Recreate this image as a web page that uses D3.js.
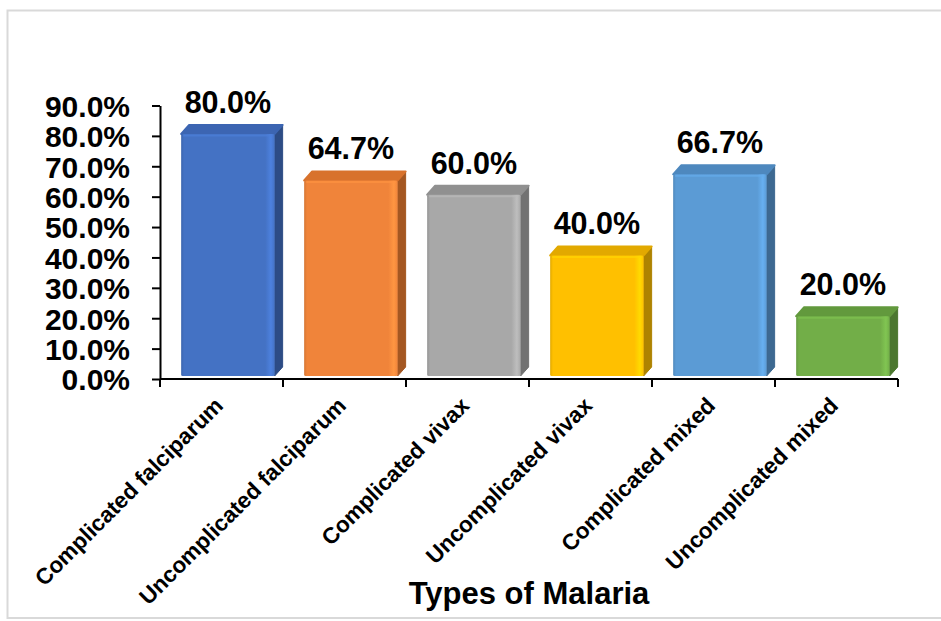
<!DOCTYPE html>
<html>
<head>
<meta charset="utf-8">
<script src="https://cdn.jsdelivr.net/npm/d3@7"></script>
<style>
  html, body { margin: 0; padding: 0; background: #fff; }
  svg { display: block; font-family: "Liberation Sans", Arial, sans-serif; }
</style>
</head>
<body>
<svg id="chart" width="941" height="621"></svg>
<script>
// Share of cases by malaria type
const categories = [
  "Complicated falciparum",
  "Uncomplicated falciparum",
  "Complicated vivax",
  "Uncomplicated vivax",
  "Complicated mixed",
  "Uncomplicated mixed"
];
const values = [80.0, 64.7, 60.0, 40.0, 66.7, 20.0];
const yTicks = [0, 10, 20, 30, 40, 50, 60, 70, 80, 90];
const axisTitle = "Types of Malaria";

// Front / top / side shades for each column
const palette = [
  { front: "#4472C4", top: "#3C65B2", side: "#2D4C85" },
  { front: "#F0843A", top: "#D8722C", side: "#A45722" },
  { front: "#A8A8A8", top: "#909090", side: "#727272" },
  { front: "#FFC000", top: "#E2A900", side: "#AE8300" },
  { front: "#5B9BD5", top: "#4E88BE", side: "#3D6991" },
  { front: "#72AE48", top: "#62993D", side: "#4B772F" }
];

const svg = d3.select("#chart");
const fmt = d => d3.format(".1f")(d) + "%";

// Chart frame (left / top / bottom edges visible)
svg.append("rect")
  .attr("x", 7.5).attr("y", 10.5)
  .attr("width", 945).attr("height", 607.5)
  .attr("fill", "none").attr("stroke", "#d9d9d9").attr("stroke-width", 2);

const plot = { left: 160, right: 898, top: 105.5, bottom: 379 };

const x = d3.scaleBand().domain(categories).range([plot.left, plot.right]).padding(0);
const y = d3.scaleLinear().domain([0, 90]).range([plot.bottom, plot.top]);

// Gradients giving the bevelled edges of each column front
const defs = svg.append("defs");
palette.forEach((p, i) => {
  const g = defs.append("linearGradient").attr("id", "front" + i)
    .attr("x1", "0").attr("x2", "1").attr("y1", "0").attr("y2", "0");
  const light = d3.color(p.front).brighter(0.35).formatHex();
  const dark = d3.color(p.front).darker(0.35).formatHex();
  g.append("stop").attr("offset", "0%").attr("stop-color", dark);
  g.append("stop").attr("offset", "3%").attr("stop-color", p.front);
  g.append("stop").attr("offset", "90%").attr("stop-color", p.front);
  g.append("stop").attr("offset", "96%").attr("stop-color", light);
  g.append("stop").attr("offset", "100%").attr("stop-color", p.front);
});

// Columns
const step = x.step();
const depthX = 8, depthY = 9;
const bars = svg.append("g");
categories.forEach((c, i) => {
  const v = values[i];
  const x0 = x(c) + step * 0.172;
  const x1 = x0 + step * 0.76;
  const yt = y(v) - 2;
  const yb = y(0) - 3;
  const p = palette[i];
  const g = bars.append("g");
  // side
  g.append("path")
    .attr("d", `M${x1},${yt} L${x1 + depthX},${yt - depthY} L${x1 + depthX},${yb - depthY} L${x1},${yb} Z`)
    .attr("fill", p.side).attr("stroke", p.side).attr("stroke-width", 1).attr("stroke-linejoin", "round");
  // top
  g.append("path")
    .attr("d", `M${x0},${yt} L${x0 + depthX},${yt - depthY} L${x1 + depthX},${yt - depthY} L${x1},${yt} Z`)
    .attr("fill", p.top).attr("stroke", p.top).attr("stroke-width", 2).attr("stroke-linejoin", "round");
  // front
  g.append("rect")
    .attr("x", x0).attr("y", yt)
    .attr("width", x1 - x0).attr("height", yb - yt)
    .attr("rx", 1.5)
    .attr("fill", `url(#front${i})`);
  // top edge highlight
  g.append("line")
    .attr("x1", x0 + 2).attr("x2", x1 - 2)
    .attr("y1", yt + 1.5).attr("y2", yt + 1.5)
    .attr("stroke", d3.color(p.front).brighter(0.3).formatHex())
    .attr("stroke-width", 2).attr("opacity", 0.7);

  // value label
  svg.append("text")
    .attr("x", (x0 + x1) / 2)
    .attr("y", y(v) - 23)
    .attr("text-anchor", "middle")
    .attr("font-size", 30.5).attr("font-weight", "bold").attr("fill", "#000")
    .text(fmt(v));
});

// Y axis
const yAxis = svg.append("g")
  .attr("transform", `translate(${plot.left},0)`)
  .call(d3.axisLeft(y).tickValues(yTicks).tickSize(8).tickSizeOuter(0).tickFormat(fmt).tickPadding(22));
yAxis.select(".domain").attr("stroke", "#000").attr("stroke-width", 2);
yAxis.selectAll(".tick line").attr("stroke", "#000").attr("stroke-width", 2);
yAxis.selectAll(".tick text")
  .attr("font-family", "'Liberation Sans', Arial, sans-serif")
  .attr("font-size", 30).attr("font-weight", "bold").attr("fill", "#000")
  .attr("dy", "0.36em");

// X axis with boundary ticks between categories
const xAxisG = svg.append("g").attr("transform", `translate(0,${plot.bottom})`);
xAxisG.append("line")
  .attr("x1", plot.left).attr("x2", plot.right)
  .attr("stroke", "#000").attr("stroke-width", 2);
const bounds = categories.map(c => x(c)).concat([x(categories[categories.length - 1]) + step]);
xAxisG.selectAll(".bt").data(bounds).join("line")
  .attr("x1", d => d).attr("x2", d => d)
  .attr("y1", 0).attr("y2", 8)
  .attr("stroke", "#000").attr("stroke-width", 2);

// Rotated category labels
svg.append("g").selectAll("text").data(categories).join("text")
  .attr("transform", d => `translate(${x(d) + step / 2 + 3},${plot.bottom + 28}) rotate(-45)`)
  .attr("text-anchor", "end")
  .attr("font-size", 22.5).attr("font-weight", "bold").attr("fill", "#000")
  .text(d => d);

// Axis title
svg.append("text")
  .attr("x", 529).attr("y", 604)
  .attr("text-anchor", "middle")
  .attr("font-size", 31).attr("font-weight", "bold").attr("fill", "#000")
  .text(axisTitle);
</script>
</body>
</html>
